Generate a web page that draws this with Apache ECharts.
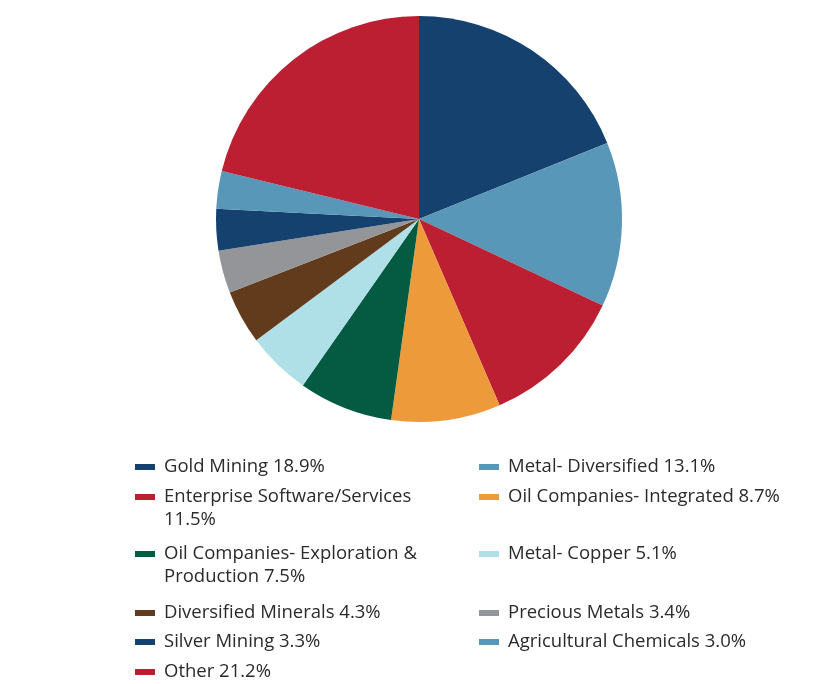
<!DOCTYPE html>
<html>
<head>
<meta charset="utf-8">
<script src="https://cdn.jsdelivr.net/npm/echarts@6/dist/echarts.min.js"></script>
<style>
  html, body { margin: 0; padding: 0; background: #fff; }
  #chart { width: 840px; height: 684px; }
</style>
</head>
<body>
<div id="chart"></div>
<script>
// 行业分布饼图

const sectors = [
    'Gold Mining',
    'Metal- Diversified',
    'Enterprise Software/Services',
    'Oil Companies- Integrated',
    'Oil Companies- Exploration & Production',
    'Metal- Copper',
    'Diversified Minerals',
    'Precious Metals',
    'Silver Mining',
    'Agricultural Chemicals',
    'Other'
];
const weights = [18.9, 13.1, 11.5, 8.7, 7.5, 5.1, 4.3, 3.4, 3.3, 3.0, 21.2];
const colors = [
    '#15416f', '#5897b8', '#bb1f31', '#ed9b3a', '#055b42', '#afe0e7',
    '#613b1c', '#939598', '#15416f', '#5897b8', '#bb1f31'
];

// legend slot per item: [left, icon center y, wraps to two lines]
const legendSlots = [
    [135, 467, false], [479, 467, false],
    [135, 497, true],  [479, 497, false],
    [135, 554, true],  [479, 554, false],
    [135, 613, false], [479, 613, false],
    [135, 642, false], [479, 642, false],
    [135, 672, false]
];

const LINE_H = 23;
// 两行图例：图标放在高框的顶部，使其与第一行对齐
const ICON_TALL = 'path://M0,0h20v6h-20zM0,29h20v0h-20z';

function buildLegends() {
    return sectors.map((name, i) => {
        const [left, cy, wraps] = legendSlots[i];
        return {
            data: [name],
            left: left,
            top: cy - LINE_H / 2,
            padding: 0,
            icon: wraps ? ICON_TALL : 'rect',
            itemWidth: 20,
            itemHeight: wraps ? 6 + LINE_H : 6,
            selectedMode: false,
            formatter: n => n + ' ' + weights[sectors.indexOf(n)].toFixed(1) + '%',
            textStyle: {
                fontFamily: 'Open Sans',
                fontSize: 18.5,
                color: '#2b2b2b',
                lineHeight: LINE_H,
                width: left < 300 ? 262 : 320,
                overflow: 'break',
                padding: [0, 0, 0, 4]
            }
        };
    });
}

const chart = echarts.init(document.getElementById('chart'));
chart.setOption({
    animation: false,
    color: colors,
    legend: buildLegends(),
    series: [{
        type: 'pie',
        center: [419, 219],
        radius: 203,
        startAngle: 90,
        clockwise: true,
        label: { show: false },
        labelLine: { show: false },
        emphasis: { disabled: true },
        itemStyle: { borderWidth: 0 },
        data: sectors.map((s, i) => ({ name: s, value: weights[i] }))
    }]
});
</script>
</body>
</html>
